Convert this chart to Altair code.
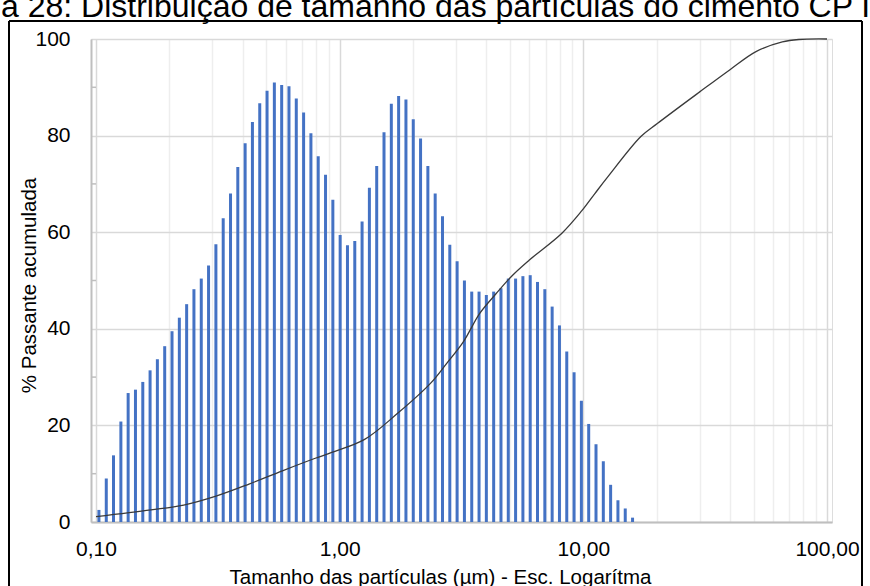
import altair as alt
import pandas as pd

# Particle size classes (µm) and relative frequency per class
particle_size = [
    0.1028, 0.1102, 0.1180, 0.1265, 0.1355, 0.1452, 0.1556, 0.1667, 0.1786, 0.1914,
    0.2051, 0.2198, 0.2355, 0.2523, 0.2704, 0.2897, 0.3105, 0.3327, 0.3565, 0.3819,
    0.4093, 0.4385, 0.4699, 0.5035, 0.5395, 0.5781, 0.6194, 0.6637, 0.7112, 0.7621,
    0.8166, 0.8750, 0.9376, 1.0046, 1.0765, 1.1535, 1.2359, 1.3243, 1.4191, 1.5205,
    1.6293, 1.7458, 1.8707, 2.0045, 2.1478, 2.3014, 2.4660, 2.6424, 2.8314, 3.0339,
    3.2509, 3.4834, 3.7325, 3.9994, 4.2855, 4.5920, 4.9204, 5.2723, 5.6494, 6.0534,
    6.4863, 6.9502, 7.4473, 7.9799, 8.5507, 9.1622, 9.8175, 10.520, 11.272, 12.078,
    12.942, 13.868, 14.860, 15.922,
]
frequency = [
    2.5, 9.0, 13.8, 20.8, 26.7, 27.4, 29.0, 31.4, 33.7, 36.4,
    39.5, 42.3, 45.1, 48.2, 50.4, 53.1, 57.5, 62.9, 68.0, 73.5,
    78.4, 82.8, 86.7, 89.3, 91.0, 90.5, 90.2, 87.7, 84.8, 80.5,
    75.7, 71.9, 66.7, 59.4, 57.3, 58.2, 62.2, 69.2, 73.7, 80.7,
    86.6, 88.2, 87.5, 83.4, 79.4, 73.7, 68.0, 63.3, 57.4, 54.0,
    50.0, 47.7, 47.7, 47.0, 47.7, 48.4, 50.4, 50.4, 50.9, 51.1,
    49.7, 48.2, 44.6, 40.7, 35.3, 31.0, 25.1, 20.3, 16.1, 12.6,
    7.7, 4.5, 2.8, 0.9,
]

# Cumulative passing curve (µm, %)
curve_size = [
    0.100, 0.168, 0.229, 0.313, 0.427, 0.582, 0.794, 0.928, 1.266, 1.729,
    2.358, 2.755, 3.217, 3.757, 4.391, 5.126, 5.989, 8.168, 9.843, 11.15,
    12.62, 17.22, 20.12, 30.12, 39.85, 51.11, 65.55, 76.51, 100.0,
]
curve_passing = [
    1.1, 2.5, 3.5, 5.4, 7.9, 10.6, 13.2, 14.4, 17.1, 22.5,
    28.7, 32.9, 37.3, 43.2, 47.3, 51.1, 54.2, 59.8, 64.4, 68.0,
    71.5, 79.8, 82.5, 89.1, 93.6, 97.4, 99.4, 99.9, 100.0,
]

x_grid_values = [
    0.1, 0.2, 0.3, 0.4, 0.5, 0.6, 0.7, 0.8, 0.9,
    1, 2, 3, 4, 5, 6, 7, 8, 9,
    10, 20, 30, 40, 50, 60, 70, 80, 90, 100,
]
y_major_values = [0, 20, 40, 60, 80, 100]
y_minor_values = [10, 30, 50, 70, 90]

caption = "a 28: Distribuição de tamanho das partículas do cimento CP I"
x_title = "Tamanho das partículas (µm) - Esc. Logarítma"
y_title = "% Passante acumulada"

FONT = "Liberation Sans"

bars_df = pd.DataFrame({"size": particle_size, "value": frequency})
curve_df = pd.DataFrame({"size": curve_size, "value": curve_passing})
minor_df = pd.DataFrame({"value": y_minor_values})
caption_df = pd.DataFrame({"t": [caption]})
one_df = pd.DataFrame({"k": [0]})

decade_test = "indexof([0.1, 1, 10, 100], datum.value) >= 0"

x_scale = alt.Scale(type="log", domain=[0.1, 100], nice=False)
y_scale = alt.Scale(domain=[0, 100], nice=False, zero=True)

x_axis = alt.Axis(
    values=x_grid_values,
    labelExpr=f"{decade_test} ? replace(format(datum.value, '.2f'), '.', ',') : ''",
    labelOverlap=False,
    labelBound=False,
    labelFlush=False,
    labelFont=FONT,
    labelFontSize=21,
    labelColor="#000000",
    labelPadding=16,
    ticks=False,
    grid=True,
    gridColor={"condition": {"test": decade_test, "value": "#d9d9d9"}, "value": "#eeeeee"},
    gridWidth=1.5,
    domainColor="#bfbfbf",
    domainWidth=2,
    title=x_title,
    titleFont=FONT,
    titleFontSize=20.5,
    titleFontWeight="normal",
    titleColor="#000000",
    titleAlign="center",
    titleBaseline="alphabetic",
    titleX=349,
    titleY=61,
)

y_axis = alt.Axis(
    values=y_major_values,
    labelFont=FONT,
    labelFontSize=21,
    labelColor="#000000",
    labelPadding=21,
    ticks=False,
    grid=True,
    gridColor="#d9d9d9",
    gridWidth=1.5,
    domainColor="#bfbfbf",
    domainWidth=2,
    title=y_title,
    titleFont=FONT,
    titleFontSize=20.5,
    titleFontWeight="normal",
    titleColor="#000000",
    titleAngle=-90,
    titleAlign="center",
    titleBaseline="alphabetic",
    titleX=-56,
    titleY=246,
)

bars = alt.Chart(bars_df).mark_bar(size=3, color="#4472C4", orient="vertical").encode(
    x=alt.X("size:Q", scale=x_scale, axis=x_axis),
    y=alt.Y("value:Q", scale=y_scale, axis=y_axis),
)

curve = alt.Chart(curve_df).mark_line(
    color="#3a3a3a", strokeWidth=1.3, interpolate="catmull-rom"
).encode(
    x=alt.X("size:Q", scale=x_scale, axis=x_axis),
    y=alt.Y("value:Q", scale=y_scale, axis=y_axis),
)

minor_ticks = alt.Chart(minor_df).mark_rule(color="#bfbfbf", strokeWidth=1.5).encode(
    y=alt.Y("value:Q", scale=y_scale, axis=y_axis),
    x=alt.value(0),
    x2=alt.value(5),
)

caption_text = alt.Chart(caption_df).mark_text(
    align="left", baseline="alphabetic", font=FONT, fontSize=32, color="#000000"
).encode(
    text="t:N",
    x=alt.value(-90),
    y=alt.value(-22),
)

frame_top = alt.Chart(one_df).mark_rule(color="#000000", strokeWidth=2).encode(
    x=alt.value(-82), x2=alt.value(771), y=alt.value(-18)
)
frame_left = alt.Chart(one_df).mark_rule(color="#000000", strokeWidth=2).encode(
    x=alt.value(-82), y=alt.value(-18), y2=alt.value(560)
)
frame_right = alt.Chart(one_df).mark_rule(color="#000000", strokeWidth=2).encode(
    x=alt.value(771), y=alt.value(-18), y2=alt.value(560)
)

chart = alt.layer(
    bars, minor_ticks, curve, caption_text, frame_top, frame_left, frame_right
).properties(
    width=741,
    height=483,
    autosize=alt.AutoSizeParams(type="none"),
    padding={"left": 91, "top": 39, "right": 38, "bottom": 64},
).configure_view(stroke=None).configure(background="#ffffff")

chart.save("out.html", embed_options={"renderer": "svg", "actions": False})
